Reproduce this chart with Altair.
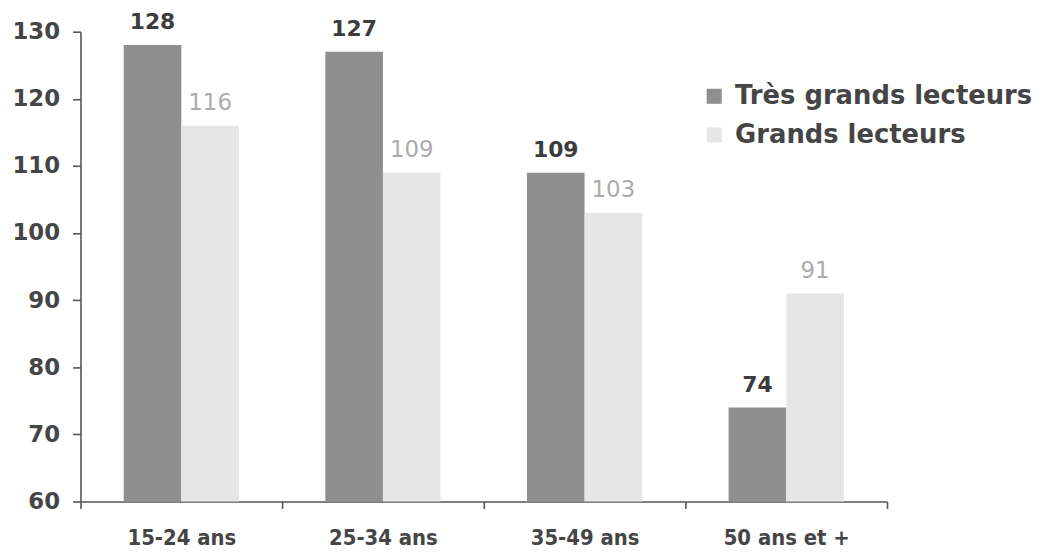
import altair as alt
import pandas as pd

categories = ["15-24 ans", "25-34 ans", "35-49 ans", "50 ans et +"]
series_names = ["Très grands lecteurs", "Grands lecteurs"]
tres_grands = [128, 127, 109, 74]
grands = [116, 109, 103, 91]

rows = []
for c, a, b in zip(categories, tres_grands, grands):
    rows.append({"cat": c, "series": series_names[0], "value": a})
    rows.append({"cat": c, "series": series_names[1], "value": b})
df = pd.DataFrame(rows)

x_enc = alt.X("cat:N", sort=categories, title=None,
              scale=alt.Scale(paddingInner=0, paddingOuter=0),
              axis=alt.Axis(labelAngle=0, tickBand="extent", tickSize=7,
                            labelFont="DejaVu Sans Condensed, Liberation Sans Narrow, DejaVu Sans",
                            labelFontWeight="bold", labelFontSize=22, labelColor="#454545",
                            labelPadding=19, domainColor="#555555", tickColor="#555555",
                            domainWidth=1.6, tickWidth=1.6))
xo_enc = alt.XOffset("series:N", sort=series_names,
                     scale=alt.Scale(paddingInner=0, paddingOuter=0.75))
y_scale = alt.Scale(domain=[60, 130], zero=False, nice=False)

bars = alt.Chart(df).mark_bar().encode(
    x=x_enc,
    xOffset=xo_enc,
    y=alt.Y("value:Q", scale=y_scale, title=None,
            axis=alt.Axis(values=[60, 70, 80, 90, 100, 110, 120, 130], grid=False,
                          tickSize=8, labelFont="DejaVu Sans", labelFontWeight="bold",
                          labelFontSize=23, labelColor="#454545", labelPadding=13,
                          domainColor="#555555", tickColor="#555555",
                          domainWidth=1.6, tickWidth=1.6)),
    y2=alt.datum(60),
    color=alt.Color("series:N", sort=series_names,
                    scale=alt.Scale(domain=series_names, range=["#8f8f8f", "#e6e6e6"]),
                    legend=alt.Legend(orient="none", legendX=625, legendY=52, title=None,
                                      symbolType="square", symbolSize=230,
                                      symbolStrokeWidth=0, padding=0,
                                      labelFont="DejaVu Sans", labelFontWeight="bold",
                                      labelFontSize=26, labelColor="#454545",
                                      labelLimit=0, labelOffset=8, rowPadding=13)),
)

dark_text = alt.Chart(df).transform_filter(
    alt.datum.series == series_names[0]
).mark_text(baseline="alphabetic", dy=-16, font="DejaVu Sans", fontWeight="bold",
            fontSize=22, color="#3c3c3c").encode(
    x=alt.X("cat:N", sort=categories), xOffset=xo_enc,
    y=alt.Y("value:Q", scale=y_scale), text="value:Q")

light_text = alt.Chart(df).transform_filter(
    alt.datum.series == series_names[1]
).mark_text(baseline="alphabetic", dy=-16, font="DejaVu Sans", fontWeight="normal",
            fontSize=23, color="#ababab").encode(
    x=alt.X("cat:N", sort=categories), xOffset=xo_enc,
    y=alt.Y("value:Q", scale=y_scale), text="value:Q")

chart = alt.layer(bars, dark_text, light_text).properties(
    width=812, height=473,
    autosize=alt.AutoSizeParams(type="none"),
    padding={"left": 73, "top": 22, "right": 150, "bottom": 52},
).configure(background="white").configure_view(stroke=None)

chart.save("out.html", embed_options={"renderer": "svg", "actions": False})
